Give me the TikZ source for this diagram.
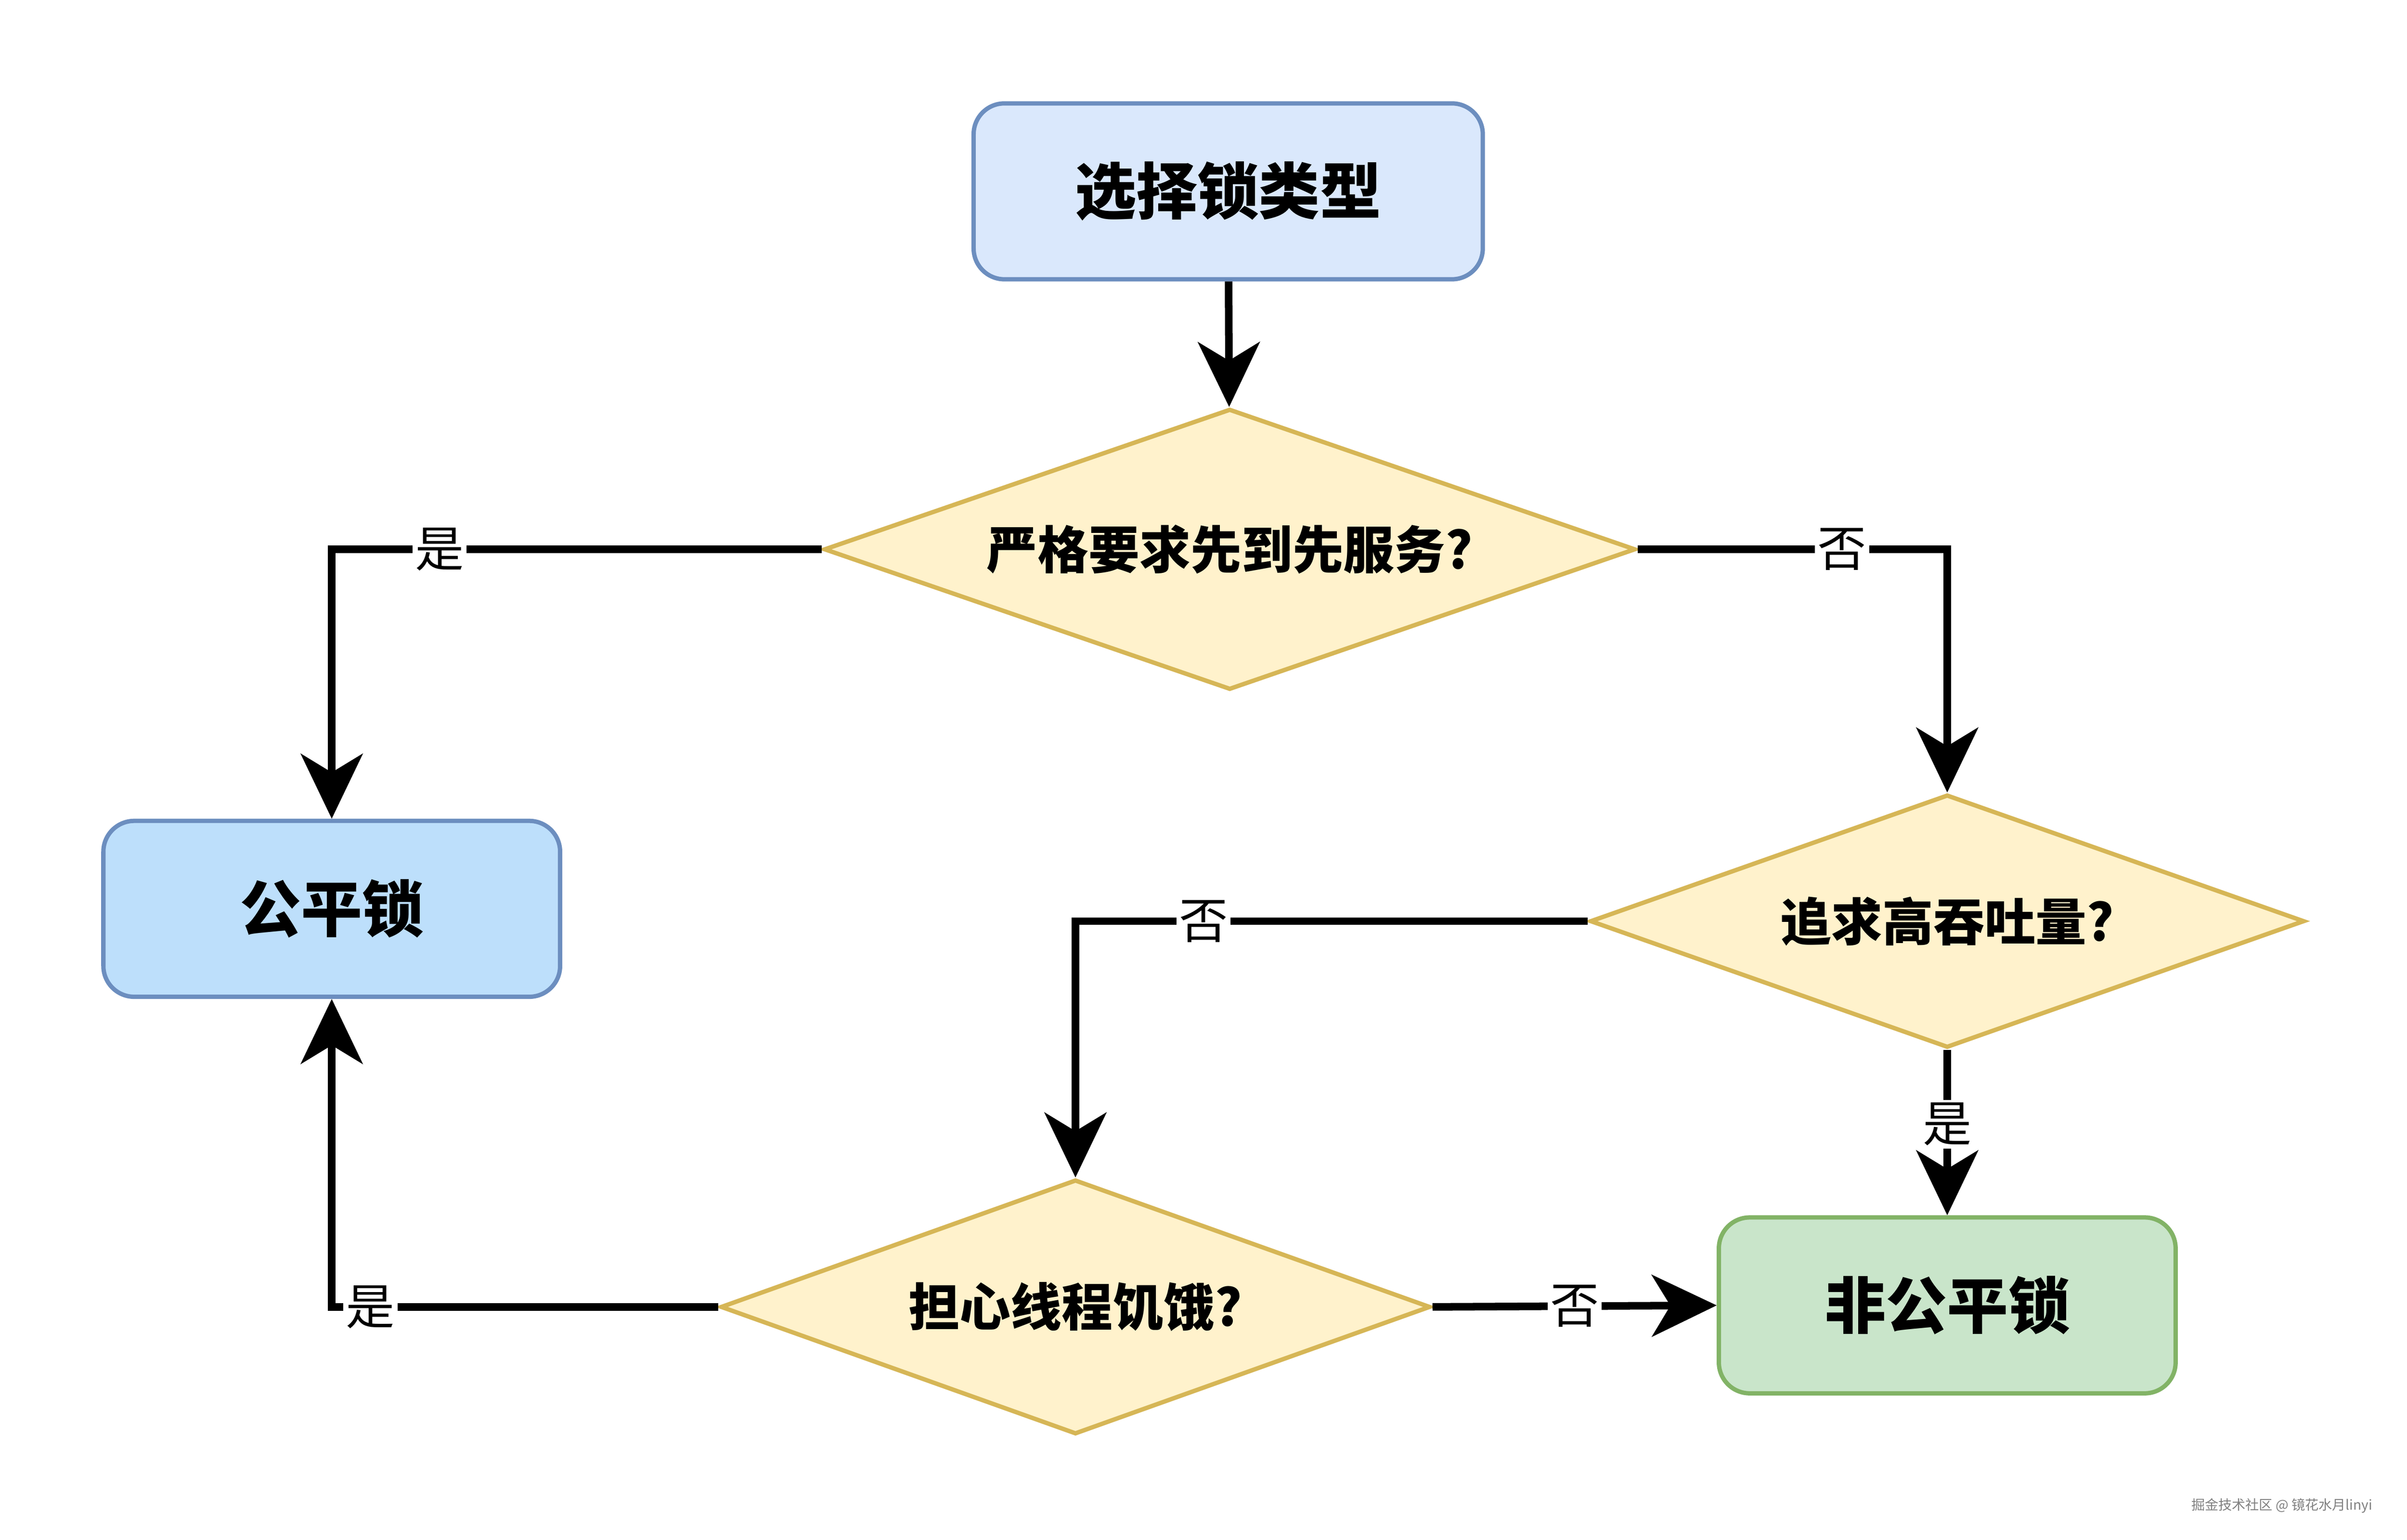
\documentclass[tikz,border=0pt]{standalone}
\usepackage{fontspec}
\newfontfamily\cjk{Noto Sans CJK SC}
\usetikzlibrary{shapes.geometric,arrows.meta}
\definecolor{boxfill}{HTML}{DAE8FC}
\definecolor{boxdraw}{HTML}{6C8EBF}
\definecolor{fairfill}{HTML}{BDDFFB}
\definecolor{greenfill}{HTML}{C9E5CA}
\definecolor{greendraw}{HTML}{82B366}
\definecolor{decfill}{HTML}{FFF2CC}
\definecolor{decdraw}{HTML}{D6B656}
\tikzset{
  box/.style = {rectangle, rounded corners=0.2cm, draw=boxdraw, fill=boxfill, line width=0.8pt,
    minimum width=3.3cm, minimum height=1.14cm, font=\cjk\bfseries\fontsize{11.3}{13}\selectfont},
  decision/.style = {diamond, draw=decdraw, fill=decfill, line width=0.8pt, inner sep=0pt,
    font=\cjk\bfseries\fontsize{9.4}{11}\selectfont},
  flow/.style = {line width=1.4pt, -{Stealth[length=0.42cm,width=0.4cm,inset=0.12cm]}},
  answer/.style = {fill=white, inner sep=0.5pt, font=\cjk\fontsize{9}{10}\selectfont}
}
\begin{document}
\begin{tikzpicture}
	\useasboundingbox (0,0) rectangle (15.6,-9.98);
	% nodes
	\node[box] (start) at (7.96,-1.24) {选择锁类型};
	\node[decision, aspect=2.885, minimum width=5.26cm, minimum height=1.82cm] (strict) at (7.97,-3.56) {严格要求先到先服务?};
	\node[box, fill=fairfill, minimum width=2.96cm] (fair) at (2.15,-5.89) {公平锁};
	\node[decision, aspect=2.818, minimum width=4.63cm, minimum height=1.64cm] (tput) at (12.62,-5.97) {追求高吞吐量?};
	\node[decision, aspect=2.783, minimum width=4.6cm, minimum height=1.65cm] (starve) at (6.97,-8.47) {担心线程饥饿?};
	\node[box, fill=greenfill, draw=greendraw, minimum width=2.96cm] (unfair) at (12.62,-8.46) {非公平锁};
	% connectors
	\draw[flow] (start) -- (strict);
	\draw[flow] (strict.west) -| node[answer, pos=0.39] {是} (fair.north);
	\draw[flow] (strict.east) -| node[answer, pos=0.33] {否} (tput.north);
	\draw[flow] (tput.west) -| node[answer, pos=0.375] {否} (starve.north);
	\draw[flow] (tput.south) -- node[answer, pos=0.45] {是} (unfair.north);
	\draw[flow] (starve.west) -| node[answer, pos=0.45] {是} (fair.south);
	\draw[flow] (starve.east) -- node[answer, pos=0.5] {否} (unfair.west);
	% watermark
	\node[text=gray, font=\cjk\fontsize{2.5}{3}\selectfont, anchor=east] (mark) at (15.5,-9.76) {掘金技术社区 @ 镜花水月linyi};
\end{tikzpicture}
\end{document}
